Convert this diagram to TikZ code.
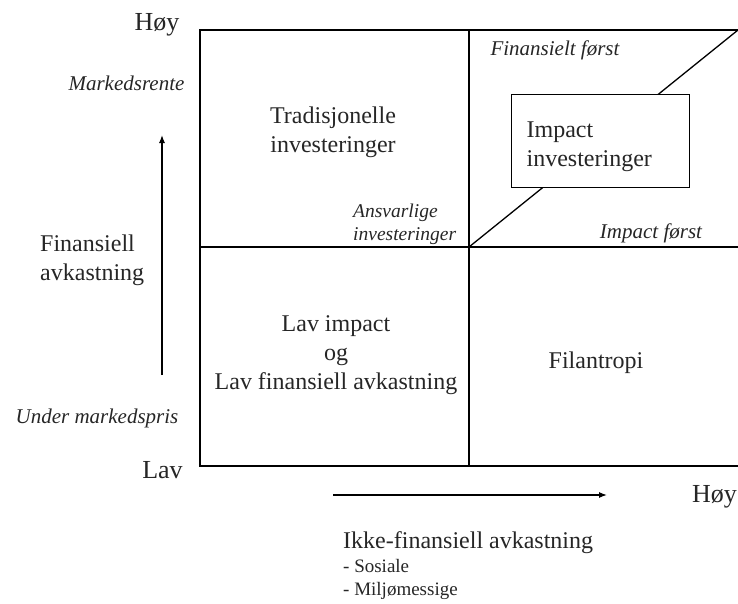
\documentclass[tikz,border=0pt]{standalone}
\usepackage{fontspec}
\setmainfont{Liberation Serif}
\usetikzlibrary{arrows.meta}

\begin{document}
\begin{tikzpicture}[x=1pt,y=-1pt,
    every node/.style={inner sep=0pt,text=black!85},
    big/.style={font=\fontsize{26}{30}\selectfont},
    txt/.style={font=\fontsize{24}{29}\selectfont,align=center},
    ital/.style={font=\fontsize{21}{23}\selectfont\itshape},
    small/.style={font=\fontsize{19}{23}\selectfont,align=left},
    line/.style={line width=1.3pt},
    arr/.style={line width=1.2pt,-{Latex[length=8pt,width=6pt]}}]
\useasboundingbox (0,0) rectangle (738,603);
% quadrants
\coordinate (nw) at (200,30);
\coordinate (se) at (741,466);
\coordinate (mid) at (469,247);
\coordinate (ne) at (738,30);
\draw[line] (nw) rectangle (se);
\draw[line] (mid |- nw) -- (mid |- se);
\draw[line] (mid -| nw) -- (mid -| se);
\draw[line] (mid) -- (ne);
\node[txt,draw,fill=white,line,align=left,text width=148pt,inner xsep=15pt,
    text height=43pt,text depth=50pt,anchor=north west] (impact) at (511,94) {Impact\\investeringer};

% axes
\coordinate (yfrom) at (162,375);
\coordinate (yto) at (162,135);
\draw[arr] (yfrom) -- (yto);
\coordinate (xfrom) at (333,495);
\coordinate (xto) at (607,495);
\draw[arr] (xfrom) -- (xto);

\node[big,anchor=base] (hoyy) at (157,30) {Høy};
\node[big,anchor=base] (lavy) at (162.5,478) {Lav};
\node[big,anchor=base] (hoyx) at (714.5,502) {Høy};
\node[ital,anchor=base] (mrente) at (126.5,90) {Markedsrente};
\node[ital,anchor=base] (upris) at (97,423) {Under markedspris};
\node[txt,align=left,anchor=north west] (finavk) at (40,234.6) {Finansiell\\avkastning};
\node[txt,anchor=base west] (ikkefin) at (343,548) {Ikke-finansiell avkastning};
\node[small,anchor=north west] (dims) at (343,559) {- Sosiale\\- Miljømessige};

% labels in the quadrants
\node[txt,anchor=north] (trad) at (333,106.6) {Tradisjonelle\\investeringer};
\node[ital,font=\fontsize{19.5}{23}\selectfont\itshape,align=left,anchor=north west] (ansv) at (353,203.3) {Ansvarlige\\investeringer};
\node[ital,anchor=base] (finforst) at (555,55) {Finansielt først};
\node[ital,anchor=base] (impforst) at (651,238) {Impact først};
\node[txt,anchor=north] (lavimp) at (336,315.6) {Lav impact\\og\\Lav finansiell avkastning};
\node[txt,anchor=base] (filan) at (596,368) {Filantropi};
\end{tikzpicture}
\end{document}
